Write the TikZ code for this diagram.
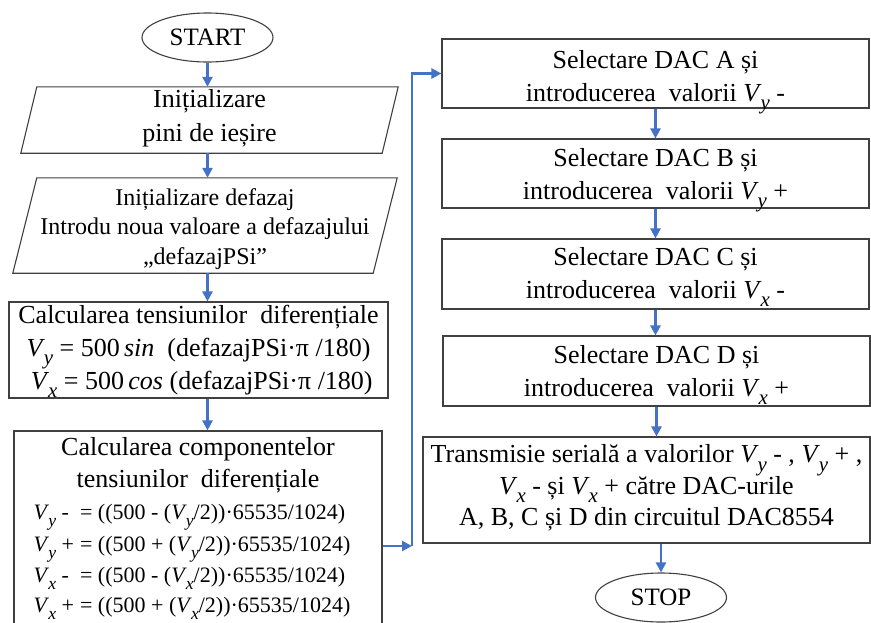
\documentclass[tikz,border=0pt]{standalone}
\usepackage{fontspec}
\setmainfont{Liberation Serif}
\usepackage{graphicx}
\usetikzlibrary{arrows.meta,shapes.geometric}
\definecolor{arrowblue}{HTML}{4472C4}
\definecolor{boxline}{HTML}{404040}
\newcommand\Vsub[1]{\textit{V}\kern-0.04em\raisebox{-0.32em}{\scalebox{0.8}{\textit{#1}}}}
\begin{document}
\begin{tikzpicture}[x=1pt,y=-1pt,
  box/.style={draw=boxline,line width=1.1pt,rectangle,inner sep=0pt},
  term/.style={draw=boxline,line width=1.1pt,ellipse,inner sep=0pt,font=\fontsize{25}{30}\selectfont},
  shapebox/.style={draw=none,inner sep=0pt},
  lbl/.style={inner sep=0pt,align=center,font=\fontsize{26}{33}\selectfont},
  paraline/.style={draw=boxline,line width=1.1pt},
  flow/.style={draw=arrowblue,line width=2.4pt,-{Triangle[length=10pt,width=10pt]}},
  formula/.style={inner sep=0pt,font=\fontsize{22}{30}\selectfont}]
\useasboundingbox (0,0) rectangle (871,622);
\clip (0,0) rectangle (871,622);

% left column
\node[term,minimum width=131pt,minimum height=49pt] (start) at (207.5,37.5) {START};

\node[shapebox,minimum width=361pt,minimum height=66pt] (p1) at (209.5,120) {};
\draw[paraline] ([xshift=8pt]p1.north west) -- ([xshift=8pt]p1.north east) -- ([xshift=-8pt]p1.south east) -- ([xshift=-8pt]p1.south west) -- cycle;
\node[lbl,font=\fontsize{26}{34}\selectfont,yshift=2pt] (p1t) at (p1) {Inițializare\\pini de ieșire};

\node[shapebox,minimum width=360pt,minimum height=95pt] (p2) at (205,225.5) {};
\draw[paraline] ([xshift=12pt]p2.north west) -- ([xshift=12pt]p2.north east) -- ([xshift=-12pt]p2.south east) -- ([xshift=-12pt]p2.south west) -- cycle;
\node[lbl,font=\fontsize{24}{29.5}\selectfont,yshift=-3.5pt] (p2t) at (p2) {Inițializare defazaj\\Introdu noua valoare a defazajului\\„defazajPSi”};

\node[box,minimum width=379pt,minimum height=96pt] (c1) at (198.5,350) {};
\node[lbl,yshift=-1pt] (c1t) at (c1) {Calcularea tensiunilor\ \ diferențiale\\\Vsub{y} = 500\,\textit{sin}\ \ (defazajPSi·π /180)\\\ \Vsub{x} = 500\,\textit{cos} (defazajPSi·π /180)};

\node[box,minimum width=368pt,minimum height=230pt] (c2) at (198,546) {};
\node[lbl,font=\fontsize{26}{31.5}\selectfont] (c2title) at (198,465) {Calcularea componentelor\\tensiunilor\ \ diferențiale};
\node[formula] (c2eq) at (192,560) {\begin{tabular}{@{}l@{\hspace{6pt}}l@{}}
\Vsub{y} - & = ((500 - (\Vsub{y}/2))·65535/1024)\\
\Vsub{y} + & = ((500 + (\Vsub{y}/2))·65535/1024)\\
\Vsub{x} - & = ((500 - (\Vsub{x}/2))·65535/1024)\\
\Vsub{x} + & = ((500 + (\Vsub{x}/2))·65535/1024)
\end{tabular}};

% right column
\node[box,minimum width=427pt,minimum height=69pt] (a) at (655.5,73.5) {};
\node[lbl,yshift=-9pt] (at) at (a) {Selectare DAC A și\\introducerea\ \ valorii \Vsub{y} -};
\node[box,minimum width=427pt,minimum height=69pt] (b) at (655.5,173.5) {};
\node[lbl,yshift=-7pt] (bt) at (b) {Selectare DAC B și\\introducerea\ \ valorii \Vsub{y} +};
\node[box,minimum width=427pt,minimum height=70pt] (c) at (655.5,274) {};
\node[lbl,yshift=-3pt] (ct) at (c) {Selectare DAC C și\\introducerea\ \ valorii \Vsub{x} -};
\node[box,minimum width=427pt,minimum height=70pt] (d) at (656.5,371) {};
\node[lbl,yshift=-4pt] (dt) at (d) {Selectare DAC D și\\introducerea\ \ valorii \Vsub{x} +};
\node[box,minimum width=447pt,minimum height=106pt] (e) at (646.5,490) {};
\node[lbl,font=\fontsize{26}{31.5}\selectfont,yshift=2pt] (et) at (e) {Transmisie serială a valorilor \Vsub{y} - , \Vsub{y} + ,\\\Vsub{x} - și \Vsub{x} + către DAC-urile\\A, B, C și D din circuitul DAC8554};
\node[term,minimum width=131pt,minimum height=49pt] (stop) at (661,597.5) {STOP};

% connectors
\draw[flow] (start.south) -- (start.south |- p1.north);
\draw[flow] (start.south |- p1.south) -- (start.south |- p2.north);
\draw[flow] (start.south |- p2.south) -- (start.south |- c1.north);
\draw[flow] (start.south |- c1.south) -- (start.south |- c2.north);
\coordinate (corner) at (412,546);
\draw[flow] (c2.east) -- (corner);
\draw[flow] (corner) |- (a.west);
\draw[flow] (a.south) -- (b.north);
\draw[flow] (b.south) -- (c.north);
\draw[flow] (c.south) -- (c.south |- d.north);
\draw[flow] (d.south) -- (d.south |- e.north);
\draw[flow] (stop.north |- e.south) -- (stop.north);
\end{tikzpicture}
\end{document}
